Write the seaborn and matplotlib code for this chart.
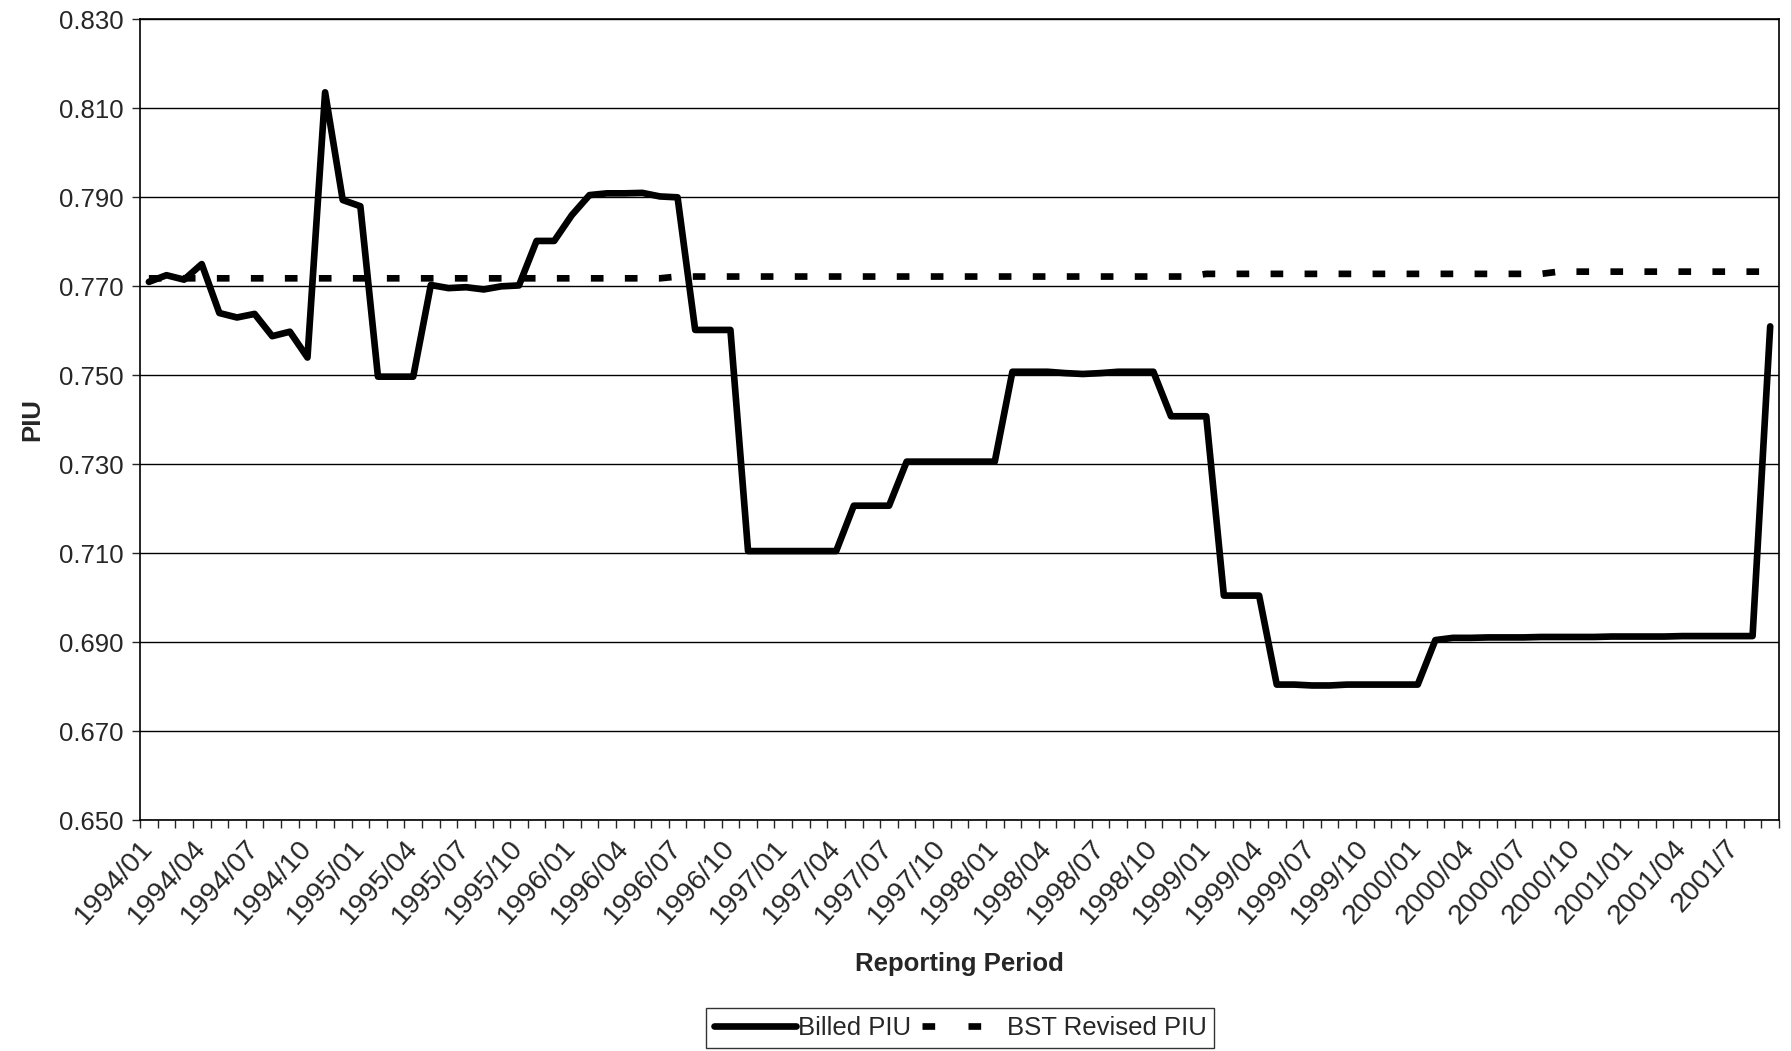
import pandas as pd
import numpy as np
import matplotlib
matplotlib.use('Agg')
import matplotlib.pyplot as plt
import seaborn as sns
from matplotlib.lines import Line2D

# Monthly reporting periods 1994/01 .. 2001/09
periods = [p.strftime('%Y/%m') for p in pd.period_range('1994-01', '2001-09', freq='M')]

tick_labels = ['1994/01', '1994/04', '1994/07', '1994/10', '1995/01', '1995/04', '1995/07',
               '1995/10', '1996/01', '1996/04', '1996/07', '1996/10', '1997/01', '1997/04',
               '1997/07', '1997/10', '1998/01', '1998/04', '1998/07', '1998/10', '1999/01',
               '1999/04', '1999/07', '1999/10', '2000/01', '2000/04', '2000/07', '2000/10',
               '2001/01', '2001/04', '2001/7']

billed_piu = [
    0.7710, 0.7725, 0.7715, 0.7750, 0.7640, 0.7630, 0.7638, 0.7588, 0.7598, 0.7540,
    0.8136, 0.7894, 0.7880, 0.7497, 0.7497, 0.7497, 0.7703, 0.7696, 0.7698, 0.7693,
    0.7700, 0.7702, 0.7802, 0.7802, 0.7860, 0.7905, 0.7909, 0.7909, 0.7910, 0.7902,
    0.7900, 0.7602, 0.7602, 0.7602, 0.7105, 0.7105, 0.7105, 0.7105, 0.7105, 0.7105,
    0.7207, 0.7207, 0.7207, 0.7306, 0.7306, 0.7306, 0.7306, 0.7306, 0.7306, 0.7508,
    0.7508, 0.7508, 0.7505, 0.7503, 0.7505, 0.7508, 0.7508, 0.7508, 0.7408, 0.7408,
    0.7408, 0.7005, 0.7005, 0.7005, 0.6805, 0.6805, 0.6803, 0.6803, 0.6805, 0.6805,
    0.6805, 0.6805, 0.6805, 0.6905, 0.6910, 0.6910, 0.6911, 0.6911, 0.6911, 0.6912,
    0.6912, 0.6912, 0.6912, 0.6913, 0.6913, 0.6913, 0.6913, 0.6914, 0.6914, 0.6914,
    0.6914, 0.6914, 0.7610]

bst_revised_piu = (
    [0.7718] * 30 +
    [0.7722] * 30 +
    [0.7728] * 20 +
    [0.7733] * 13)

df = pd.DataFrame({'idx': np.arange(len(periods)), 'period': periods,
                   'Billed PIU': billed_piu, 'BST Revised PIU': bst_revised_piu})

sns.set_style('white')
plt.rcParams['font.family'] = ['Liberation Sans', 'DejaVu Sans']
fs = 18.5
dash = (0, (1.9, 3.2))

fig = plt.figure(figsize=(17.91, 10.51), dpi=100)
ax = fig.add_axes([0.0782, 0.2195, 0.9151, 0.7621])

sns.lineplot(data=df, x='idx', y='BST Revised PIU', ax=ax, color='black', lw=4.8,
             linestyle=dash)
sns.lineplot(data=df, x='idx', y='Billed PIU', ax=ax, color='black', lw=4.8)

ax.set_xlim(-0.5, len(periods) - 0.5)
ax.set_ylim(0.650, 0.830)
ax.set_yticks(np.arange(0.650, 0.8301, 0.02))
ax.yaxis.set_major_formatter(plt.FormatStrFormatter('%.3f'))
ax.yaxis.grid(True, color='black', lw=1)
ax.set_axisbelow(True)

label_pos = [periods.index(t) if t in periods else periods.index('2001/07') for t in tick_labels]
ax.set_xticks(label_pos)
ax.set_xticklabels(tick_labels, rotation=48, ha='right', va='center', rotation_mode='anchor')
ax.set_xticks(np.arange(-0.5, len(periods)), minor=True)
ax.tick_params(axis='x', which='major', length=0, pad=17, labelsize=20.5)
ax.tick_params(axis='x', which='minor', length=6, width=1, direction='out', bottom=True)
ax.tick_params(axis='y', which='major', length=6, width=1, direction='out', left=True,
               pad=6, labelsize=fs)

for s in ax.spines.values():
    s.set_visible(True)
    s.set_color('black')
    s.set_linewidth(1.2)

ax.set_xlabel('')
ax.set_ylabel('')
fig.text(0.5358, 0.0827, 'Reporting Period', ha='center', va='center',
         fontsize=fs, fontweight='bold')
fig.text(0.018, 0.6006, 'PIU', ha='center', va='center', rotation=90,
         fontsize=fs, fontweight='bold')

handles = [Line2D([], [], color='black', lw=4.8),
           Line2D([], [], color='black', lw=4.8, linestyle=(0, (1.9, 5.0)))]
leg = fig.legend(handles, ['Billed PIU', 'BST Revised PIU'], loc='center',
                 bbox_to_anchor=(0.536, 0.022), ncol=2, frameon=True, fancybox=False,
                 edgecolor='black', fontsize=fs, handlelength=3.2, handletextpad=0.1,
                 columnspacing=0.4, borderpad=0.3)
leg.get_frame().set_linewidth(1)

fig.savefig('out.png', dpi=100, facecolor='white')
